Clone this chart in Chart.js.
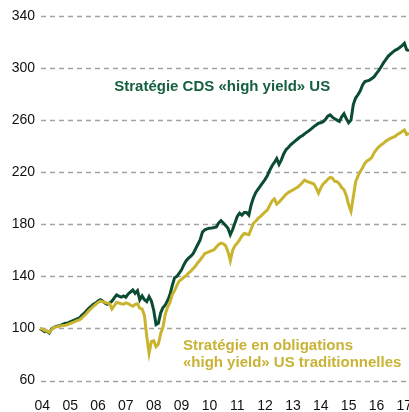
<!DOCTYPE html>
<html><head><meta charset="utf-8">
<script src="https://cdn.jsdelivr.net/npm/chart.js@4"></script>
<style>html,body{margin:0;padding:0;background:#fff;}#wrap{width:409px;height:412px;position:relative;}</style>
</head><body><div id="wrap"><canvas id="c"></canvas></div>
<script>
// Monthly observations, Dec 2003 .. Mar 2017
const firstYear = 2003, firstMonth = 12, monthCount = 160;
const months = [];
for (let i = 0; i < monthCount; i++) {
  const m = (firstMonth - 1 + i) % 12 + 1;
  const y = firstYear + Math.floor((firstMonth - 1 + i) / 12);
  months.push(y + '-' + String(m).padStart(2, '0'));
}
const yearTickLabels = ['04','05','06','07','08','09','10','11','12','13','14','15','16','17'];
const yTicks = [60, 100, 140, 180, 220, 260, 300, 340];

const cdsHighYield = [
100,98.8,97.5,97.8,96.5,99.5,100.8,101.5,102,102.5,103.3,104,
104.2,105,105.8,106.5,107.3,108,110,111.5,113.5,115.5,117,118.5,
119.5,121,122,121,119.5,118.5,119.6,121,123.5,125.7,124.8,124,
125,124,126.5,128,129.5,127,129,122,125,122,120.6,124.4,
121,114,103,104,112,116,118,121.5,126,133,139,140,
142.5,145,149,152,154,155.5,157.5,161,164.5,168,174,175.8,
176.5,177,177.2,177.5,178,181,182.8,181,179,177,172,176,
181,186,188.5,187,189,189,187,195,200.5,204.5,207,209.5,
212,214.5,217.5,221.5,225,227.5,230.5,226,229.5,234,237.3,239,
241,242.5,244,245.5,247,248,249.5,250.8,252,253.5,255,256.3,
257.6,258,258.8,260.5,263,264,262.3,261,260,259,262.5,265,
261,258,260,272,277,279.5,282.5,287,289.6,290.2,290.8,292,
293.4,296,298.2,301,304,306.5,309,310.7,312.3,313.6,314.5,315.8,
317.2,319,314,313.5];

const traditionalHighYield = [
100,99.5,98.4,98,97,99,100.8,101.2,101.5,102,102.2,102.5,
103,103.8,104.5,105.2,106,106.5,108,109.7,111.5,113.5,115.3,117,
118.5,120,121,120.5,120,119.5,119,115,117.5,120,119.5,119,
118.6,119.6,119,118,117,118.5,119,115.5,115,110,94,81,
90,90.5,86,88,96,101,111,116.5,120,126,129,133,
136.5,137.8,139.3,140.5,142.5,144,146,148,150.5,152.6,155,157.5,
158.2,159,159.8,160.5,162.5,164.5,165.5,165,163.5,159,152,160,
163.5,165.5,168,171,173,172.5,172,176.5,180.8,182.5,184.5,186,
187.8,189.5,191,194.5,198,199.5,195.5,197,199,201,203,204.5,
205.5,206.3,207.5,208.5,210,212,214,213,212.3,211.7,211,208,
204,208,211,212.5,214.5,216,215.5,213,212.8,211,208.3,206.5,
202,195,190,201,212.5,217,220.5,223.5,227,228.8,229.8,231.5,
235,237.5,239.5,241,242.2,243.8,245,246,246.8,247.5,249,250,
251.2,252.4,249,249.8];

const GREEN = '#0b4b32', GREEN_TXT = '#16603f', GOLD = '#c8b42e', GOLD_TXT = '#c9b336';
const FONT = '"Liberation Sans", Arial, sans-serif';

const dashedGrid = {
  id: 'dashedGrid',
  beforeDatasetsDraw(chart) {
    const {ctx, chartArea: a, scales: {y}} = chart;
    ctx.save();
    ctx.strokeStyle = '#a3a3a3';
    ctx.lineWidth = 1.3;
    ctx.setLineDash([5, 4]);
    y.ticks.forEach(t => {
      const py = Math.round(y.getPixelForValue(t.value)) + 0.5;
      ctx.beginPath();
      ctx.moveTo(a.left + 1, py);
      ctx.lineTo(a.right, py);
      ctx.stroke();
    });
    ctx.restore();
  }
};

const labelsPlugin = {
  id: 'seriesLabels',
  afterDatasetsDraw(chart) {
    const {ctx, scales: {x, y}} = chart;
    ctx.save();
    ctx.font = 'bold 15px ' + FONT;
    ctx.textBaseline = 'middle';
    ctx.textAlign = 'left';
    ctx.fillStyle = GREEN_TXT;
    ctx.fillText('Stratégie CDS «high yield» US', x.getPixelForValue(32), y.getPixelForValue(285.5));
    ctx.fillStyle = GOLD_TXT;
    ctx.fillText('Stratégie en obligations', x.getPixelForValue(61.6), y.getPixelForValue(86.5));
    ctx.fillText('«high yield» US traditionnelles', x.getPixelForValue(61.6), y.getPixelForValue(73.3));
    ctx.restore();
  }
};

new Chart(document.getElementById('c'), {
  type: 'line',
  data: {
    labels: months,
    datasets: [
      {label: 'Obligations HY traditionnelles', data: traditionalHighYield, borderColor: GOLD, borderWidth: 3, pointRadius: 0, tension: 0, fill: false},
      {label: 'Stratégie CDS HY', data: cdsHighYield, borderColor: GREEN, borderWidth: 3, pointRadius: 0, tension: 0, fill: false}
    ]
  },
  options: {
    responsive: true, maintainAspectRatio: false, animation: false,
    layout: {padding: {top: 16, right: 0, bottom: 0, left: 0}},
    plugins: {legend: {display: false}, tooltip: {enabled: false}},
    scales: {
      x: {
        type: 'category',
        grid: {display: false, drawTicks: false},
        border: {display: false},
        ticks: {
          autoSkip: false, maxRotation: 0, padding: 17,
          color: '#111', font: {family: FONT, size: 14},
          callback: function(v) {
            const lab = this.getLabelForValue(v);
            if (lab.endsWith('-01')) {
              const yy = lab.slice(2, 4);
              return yearTickLabels.includes(yy) ? yy : null;
            }
            return null;
          }
        },
        afterFit(s) { s.height = 31.5; s.paddingLeft = 0; s.paddingRight = 0; }
      },
      y: {
        min: 60, max: 340,
        afterBuildTicks(s) { s.ticks = yTicks.map(v => ({value: v})); },
        grid: {display: false, drawTicks: false},
        border: {display: false},
        ticks: {padding: 5, color: '#111', font: {family: FONT, size: 14}},
        afterFit(s) { s.width = 40; }
      }
    }
  },
  plugins: [dashedGrid, labelsPlugin]
});
</script></body></html>
